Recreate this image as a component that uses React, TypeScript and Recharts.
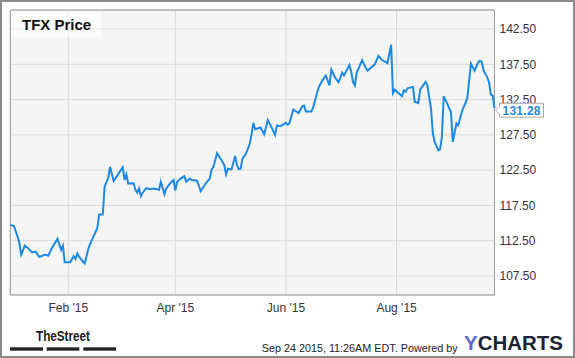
import { LineChart, Line, XAxis, YAxis, CartesianGrid, ReferenceArea, LabelList } from "recharts";

// days since Jan 1 2015 (Dec 31 = -1)
const tradeDays = [
  -1, 1, 3, 4, 5, 7, 9, 11, 13, 15, 18, 20, 22, 25, 27, 28, 29, 32, 34, 35,
  36, 37, 40, 42, 43, 47, 48, 50, 51, 53, 54, 56, 61, 62, 63, 64, 67, 68, 69, 70,
  71, 72, 74, 76, 78, 80, 81, 82, 84, 85, 87, 89, 90, 91, 93, 95, 96, 98, 99, 102,
  104, 105, 107, 109, 110, 111, 113, 116, 117, 118, 119, 121, 123, 124, 125, 126, 127, 129, 131, 132,
  133, 134, 137, 139, 141, 143, 145, 146, 148, 151, 152, 153, 155, 158, 160, 161, 162, 165, 166, 169,
  171, 173, 175, 176, 178, 180, 182, 183, 186, 187, 188, 189, 190, 193, 195, 196, 198, 200, 202, 204,
  206, 207, 209, 210, 211, 213, 215, 216, 217, 218, 221, 222, 224, 225, 228, 229, 231, 232, 233, 235,
  236, 237, 238, 240, 242, 243, 245, 246, 248, 251, 253, 254, 255, 257, 258, 259, 260, 262, 263, 264,
  265, 266,
];

const closePrices = [
  114.7, 114.6, 113.1, 112.2, 110.5, 111.8, 111.4, 110.85, 110.95, 110.2, 110.5, 110.4, 111.5, 112.75, 111.2, 111.8, 109.45, 109.45, 110.3, 109.9,
  110.7, 110.2, 109.25, 111.3, 112.0, 114.3, 116.2, 116.2, 120.15, 121.4, 122.97, 120.95, 122.9, 121.1, 121.9, 120.6, 120.65, 119.7, 119.3, 119.9,
  118.8, 119.3, 119.96, 119.8, 119.9, 119.8, 119.7, 120.85, 119.1, 119.9, 120.6, 121.1, 119.6, 120.85, 121.3, 121.65, 120.85, 121.3, 121.1, 121.0,
  119.5, 119.9, 120.7, 121.3, 122.6, 122.96, 124.9, 123.7, 123.2, 121.9, 122.7, 122.6, 124.5, 123.2, 122.64, 122.7, 124.1, 124.85, 126.2, 127.5,
  129.2, 128.3, 128.55, 127.6, 129.6, 128.6, 127.5, 128.85, 128.74, 129.2, 128.94, 129.2, 131.1, 130.6, 131.55, 131.65, 130.8, 130.8, 131.4, 134.2,
  135.2, 135.9, 134.5, 136.75, 135.66, 134.96, 136.3, 135.9, 137.4, 136.4, 134.96, 134.5, 136.3, 138.1, 137.0, 136.6, 137.06, 137.5, 138.7, 138.1,
  137.8, 137.65, 140.3, 133.4, 133.9, 133.44, 132.97, 133.8, 133.6, 134.1, 134.3, 132.2, 132.0, 133.9, 135.0, 134.5, 131.2, 127.7, 126.5, 125.3,
  125.46, 127.2, 132.97, 131.9, 130.7, 126.5, 129.1, 128.84, 130.8, 132.7, 137.6, 137.1, 136.6, 137.77, 138.0, 137.85, 136.6, 135.65, 134.96, 133.2,
  133.06, 131.28,
];

const xTickDays = [31, 90, 151, 212];
const xTickLabels = ["Feb '15", "Apr '15", "Jun '15", "Aug '15"];
const yTicks = [107.5, 112.5, 117.5, 122.5, 127.5, 132.5, 137.5, 142.5];
const xDomain = [-1, 266];
const yDomain = [104.8, 145.2];

const data = tradeDays.map((day, i) => ({ day, price: closePrices[i] }));

const FONT = "Arial, 'Liberation Sans', sans-serif";
const BLUE = "#1e88e5";

function LastLabel(props: any) {
  const { x, y, index, value } = props;
  if (index !== data.length - 1) return null;
  const cy = y + 2;
  const bx = x + 5;
  return (
    <g>
      <path
        d={`M${bx},${cy - 7} H${bx + 44} V${cy + 7} H${bx} V${cy + 4} L${x + 1},${cy} L${bx},${cy - 4} Z`}
        fill="#fff"
        stroke="#a8a8a8"
      />
      <text x={bx + 3} y={cy + 4.5} fill={BLUE} fontSize={12} fontWeight="bold" fontFamily={FONT} textLength={38}>
        {Number(value).toFixed(2)}
      </text>
    </g>
  );
}

export default function App() {
  return (
    <div style={{ position: "absolute", left: 0, top: 0, width: 575, height: 358, background: "#fff" }}>
      <LineChart width={575} height={358} data={data} margin={{ top: 10, right: 10.5, bottom: 33, left: 10.3 }}>
        <CartesianGrid fill="#f5f5f5" stroke="#d9d9d9" />
        <XAxis
          dataKey="day"
          type="number"
          domain={xDomain}
          ticks={xTickDays}
          tickFormatter={(v: number) => xTickLabels[xTickDays.indexOf(v)]}
          axisLine={false}
          tickLine={false}
          height={30}
          tick={{ fill: "#333", fontSize: 12, fontFamily: FONT }}
        />
        <YAxis
          orientation="right"
          type="number"
          domain={yDomain}
          ticks={yTicks}
          tickFormatter={(v: number) => v.toFixed(2)}
          axisLine={false}
          tickLine={false}
          tickSize={3}
          tickMargin={2}
          width={70}
          tick={{ fill: "#333", fontSize: 12, fontFamily: FONT, textAnchor: "start" }}
        />
        <ReferenceArea x1={xDomain[0]} x2={xDomain[1]} y1={yDomain[0]} y2={yDomain[1]} fill="none" stroke="#9a9a9a" strokeWidth={1} />
        <Line type="linear" dataKey="price" stroke={BLUE} strokeWidth={2} dot={false} isAnimationActive={false}>
          <LabelList dataKey="price" content={LastLabel} />
        </Line>
      </LineChart>
      <svg width={575} height={358} style={{ position: "absolute", left: 0, top: 0, pointerEvents: "none" }}>
        <rect x={11} y={11} width={90} height={26} fill="#fff" fillOpacity={0.55} />
        <text x={22} y={29.5} fontSize={15} fontWeight="bold" fontFamily={FONT} fill="#111">
          TFX Price
        </text>
        <text x={36} y={340.7} fontSize={15} fontWeight="bold" fontFamily="'Liberation Sans Narrow', Arial, sans-serif" fill="#1a1a1a" textLength={54} lengthAdjust="spacingAndGlyphs">
          TheStreet
        </text>
        <rect x={10} y={347.3} width={33} height={3.4} fill="#262626" />
        <rect x={46.7} y={347.3} width={32.6} height={3.4} fill="#262626" />
        <rect x={83.3} y={347.3} width={32.7} height={3.4} fill="#262626" />
        <text x={261.7} y={351.5} fontSize={11} fontFamily={FONT} fill="#222" textLength={196} lengthAdjust="spacingAndGlyphs">
          Sep 24 2015, 11:26AM EDT. Powered by
        </text>
        <text x={464} y={350} fontSize={20} fontWeight={900} fontFamily={FONT} textLength={99} lengthAdjust="spacingAndGlyphs">
          <tspan fill="#5b6bcc">Y</tspan>
          <tspan fill="#1c2333">CHARTS</tspan>
        </text>
        <rect x={1} y={1} width={573} height={356} fill="none" stroke="#8a8a8a" strokeWidth={2} />
      </svg>
    </div>
  );
}
